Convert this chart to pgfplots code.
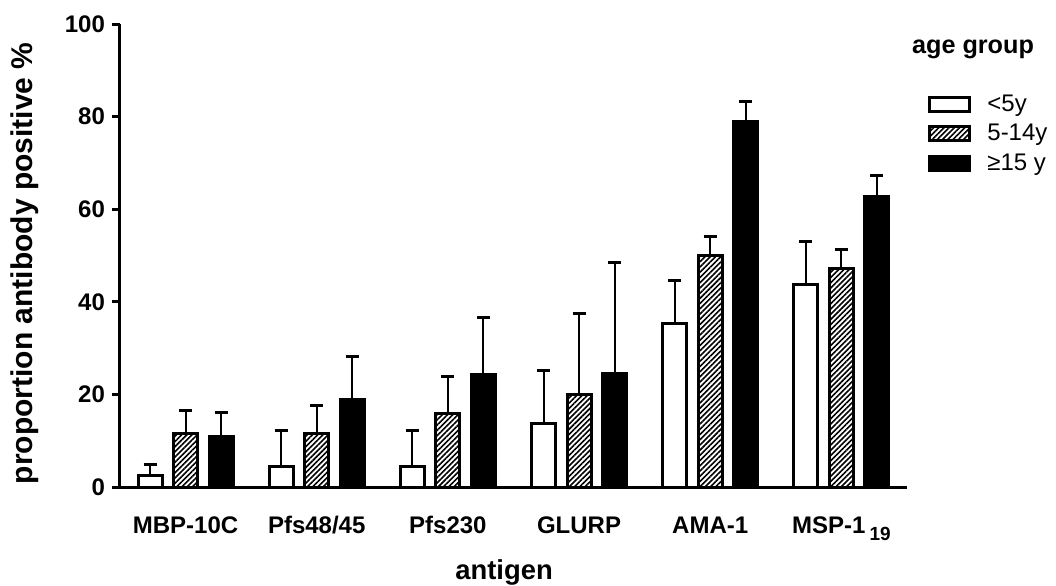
\documentclass[border=0pt]{standalone}
\usepackage{fontspec}
\setmainfont{Liberation Sans}
\usepackage{pgfplots}
\usepackage{pgfplotstable}
\pgfplotsset{compat=1.18}
\usetikzlibrary{patterns.meta}

% x = antigen index, y = % positive, e = upper error
\pgfplotstableread{
x y e
0 2.4 2.4
1 4.4 7.7
2 4.4 7.7
3 13.8 11.3
4 35.3 9.2
5 43.8 9.3
}\young
\pgfplotstableread{
x y e
0 11.6 5.0
1 11.6 6.0
2 15.9 7.9
3 20.0 17.5
4 50.0 4.2
5 47.1 4.2
}\middle
\pgfplotstableread{
x y e
0 10.9 5.1
1 18.8 9.4
2 24.3 12.3
3 24.5 23.9
4 78.9 4.3
5 62.7 4.5
}\older

% legend: one wide box per age group
\pgfplotsset{ybar legend/.style={legend image code/.code={%
  \draw[##1, line width=1.5pt] (0pt,-3.5pt) rectangle (20pt,3.5pt);}}}

\begin{document}
\begin{tikzpicture}
\path[use as bounding box] (-60pt,-49pt) rectangle (468pt,243.5pt);
\begin{axis}[
    scale only axis,
    width=393.5pt, height=231.5pt,
    ybar=5.75pt, bar width=12pt,
    xmin=-0.5, xmax=5.5,
    ymin=0, ymax=100,
    clip=false,
    axis lines=left,
    axis line style={-, line width=1.5pt},
    xtick={0,...,5},
    xticklabels={MBP-10C, Pfs48/45, Pfs230, GLURP, AMA-1,
      {MSP-1\,\raisebox{-0.55ex}{\fontsize{9.5}{10}\selectfont 19}}},
    major x tick style={draw=none},
    ytick={0,20,...,100},
    tick align=outside,
    major tick length=4pt,
    major y tick style={line width=1.5pt, black},
    tick label style={font=\fontsize{12}{13}\selectfont\bfseries},
    /pgf/number format/assume math mode=true,
    xticklabel style={yshift=-7pt, text height=8.6pt, text depth=2.5pt},
    xlabel={antigen},
    ylabel={proportion antibody positive \%},
    xlabel style={at={(axis description cs:0.488,-0.1836)}, anchor=center,
      font=\fontsize{13.7}{15}\selectfont\bfseries},
    ylabel style={at={(axis description cs:-0.1207,0.483)}, anchor=center,
      font=\fontsize{15}{17}\selectfont\bfseries},
    legend style={at={(axis description cs:1.0267,0.857)}, anchor=north west,
      draw=none, fill=none, inner sep=0pt,
      font=\fontsize{12}{13}\selectfont,
      row sep=1pt, column sep=6pt},
    legend cell align=left,
    error bars/y dir=plus,
    error bars/y explicit,
    error bars/error bar style={line width=1pt, solid, black},
    error bars/error mark options={rotate=90, mark size=3.25pt, line width=1.5pt, black},
]
\addplot[draw=black, line width=1.5pt, fill=white]
  table[x=x, y=y, y error=e] {\young};
\addplot[draw=black, line width=1.5pt,
  pattern={Lines[angle=45, distance=1.85pt, line width=0.8pt]}]
  table[x=x, y=y, y error=e] {\middle};
\addplot[draw=black, line width=1.5pt, fill=black]
  table[x=x, y=y, y error=e] {\older};
\legend{<5y, 5-14y, ≥15 y}
\node[font=\fontsize{12.6}{14}\selectfont\bfseries] at (axis description cs:1.0839,0.946) {age group};
\end{axis}
\end{tikzpicture}
\end{document}
